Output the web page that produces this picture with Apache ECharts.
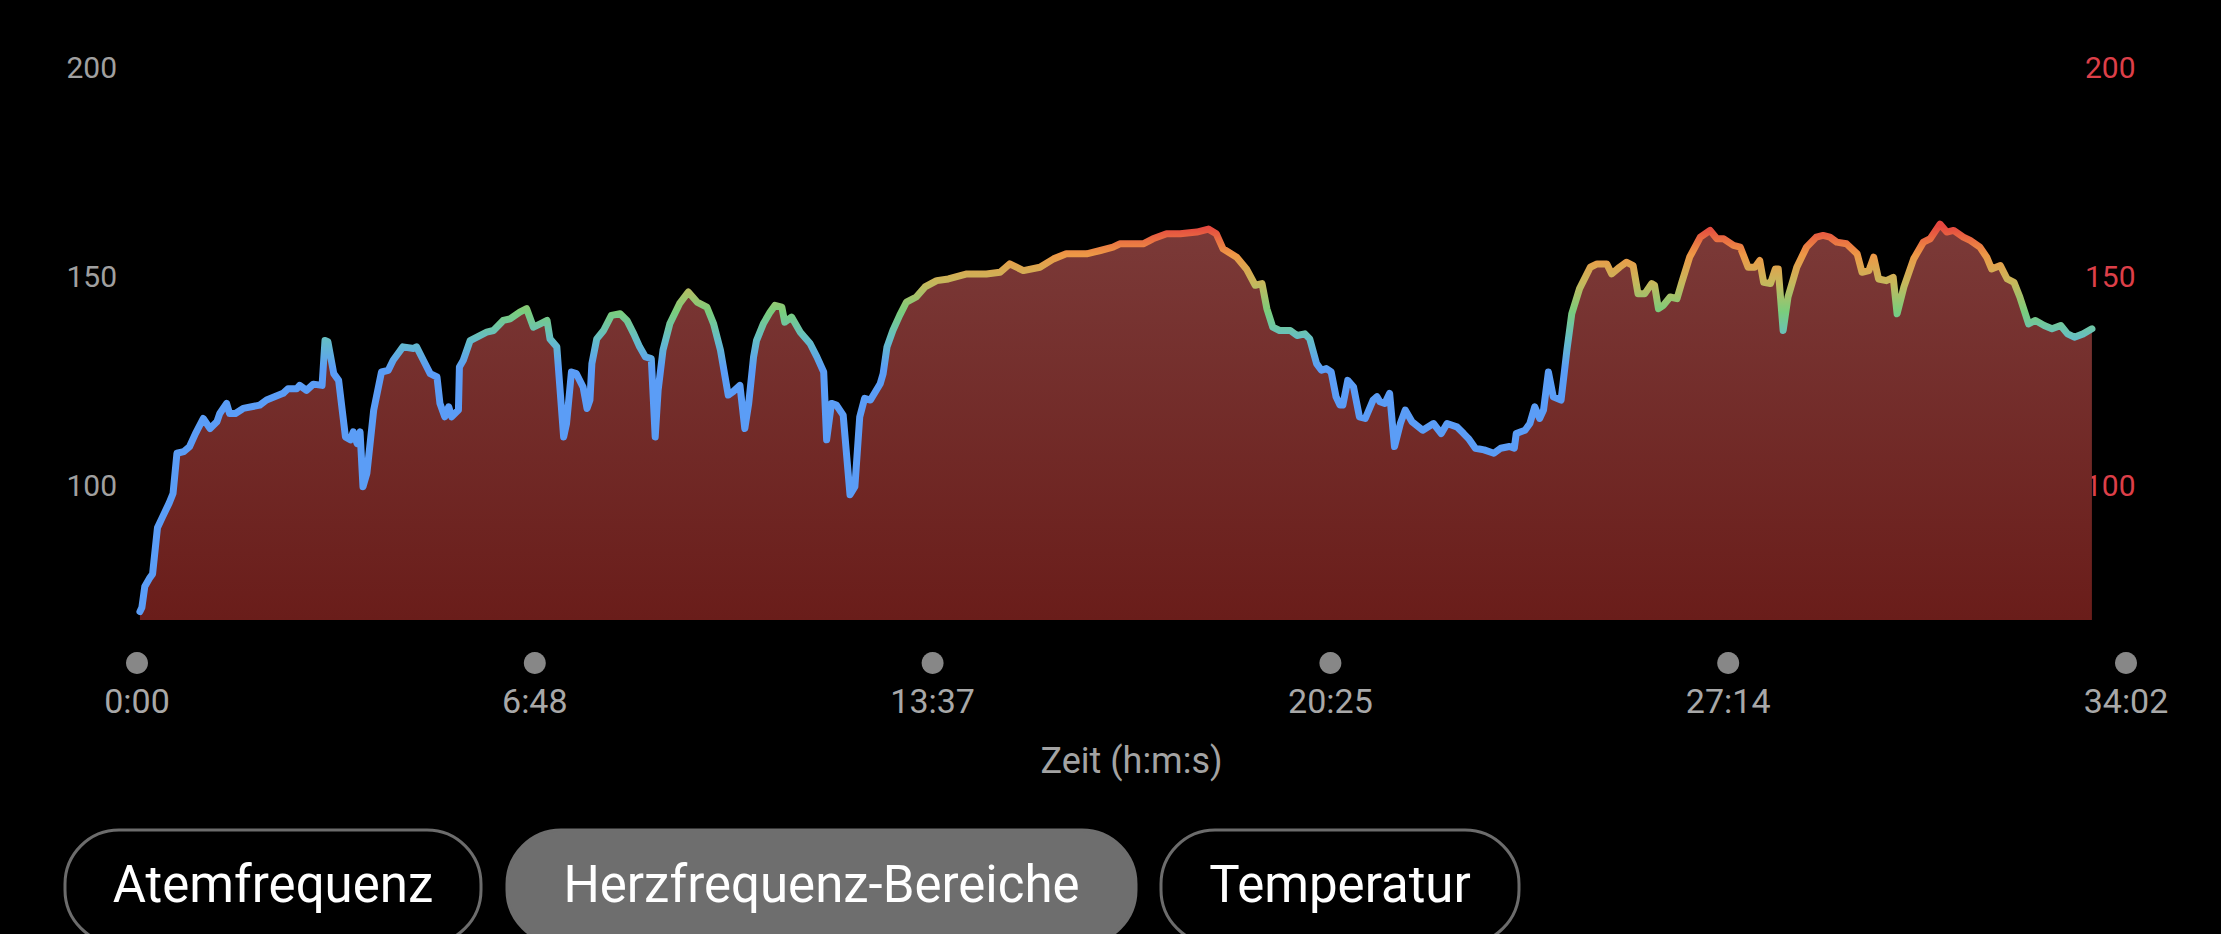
<!DOCTYPE html>
<html>
<head>
<meta charset="utf-8">
<script src="https://cdn.jsdelivr.net/npm/echarts@6/dist/echarts.min.js"></script>
<style>
  html, body { margin: 0; padding: 0; background: #000; overflow: hidden; }
  #chart { width: 2221px; height: 934px; }
</style>
</head>
<body>
<div id="chart"></div>
<script>
// elapsed time in seconds
const times = [3,5,8,13,16,21,26,33,37,41,48,54,60,68,75,82,85,92,95,101,109,126,133,150,155,164,167,174,181,190,193,196,202,207,214,219,222,226,229,232,236,243,251,258,263,273,284,287,294,301,308,311,316,320,323,330,331,335,342,352,359,366,376,383,393,400,407,414,421,424,431,438,441,446,451,458,462,465,467,472,479,487,496,503,510,516,522,528,532,535,540,547,557,566,575,585,592,599,607,612,619,624,628,633,636,643,650,655,662,665,672,681,691,698,705,708,713,718,725,732,737,742,747,753,763,766,770,776,783,790,800,809,821,833,852,872,886,896,910,927,941,954,975,989,1002,1009,1033,1043,1057,1071,1088,1100,1108,1115,1129,1139,1148,1155,1160,1166,1173,1184,1191,1199,1204,1211,1216,1221,1226,1231,1235,1238,1243,1249,1255,1261,1269,1273,1276,1281,1286,1291,1297,1302,1309,1320,1331,1339,1345,1355,1362,1367,1374,1383,1393,1400,1409,1414,1416,1425,1430,1435,1440,1444,1449,1454,1462,1468,1473,1481,1492,1499,1509,1514,1522,1529,1536,1541,1548,1555,1558,1562,1567,1574,1581,1586,1594,1605,1615,1622,1629,1639,1646,1654,1661,1666,1670,1677,1682,1685,1690,1695,1704,1714,1724,1731,1738,1745,1755,1766,1771,1778,1783,1788,1796,1803,1807,1814,1824,1834,1841,1851,1858,1865,1875,1882,1892,1899,1904,1913,1920,1927,1933,1942,1949,1958,1966,1975,1982,1989,1998,2007];
// heart rate (bpm)
const heartRate = [70,71,76,78,79,90,92.5,95.9,98.2,107.8,108.2,109.4,112.5,116.1,113.7,115.3,117.3,119.7,117.3,117.3,118.5,119.3,120.5,122.1,123.2,123.2,124,122.8,124.3,124,134.7,134.4,126.8,125.2,111.7,111,112.9,110.1,112.9,99.8,103,118.1,127.2,127.6,130,133.2,132.8,133.2,130,126.8,126,119.7,116.5,118.9,116.5,118.1,128.4,130,134.7,135.9,136.7,137.1,139.5,139.9,141.5,142.3,137.9,138.7,139.5,135.1,133.2,111.7,114.9,127.2,126.8,123.6,118.5,120.5,129.2,135.1,137.1,140.7,141.1,139.5,136.3,133.2,130.8,130.4,111.7,122.8,132.4,138.7,143.5,146.3,143.9,142.7,138.7,132.4,121.7,122.5,124,113.7,119.7,130.8,134.7,138.7,141.5,143.1,142.7,139.1,140.3,136.7,134,130.8,127.2,111,119.7,119.3,116.9,97.9,99.8,116.5,120.9,120.5,124.4,126.8,133.2,137.1,140.7,143.9,145.1,147.5,149,149.4,150.6,150.6,151,153,151.4,152.2,154.2,155.4,155.4,156.2,157,157.8,157.8,159,160.2,160.2,160.6,161.3,160.2,156.6,154.6,151.8,147.9,148.3,142.3,137.9,137.1,137.1,135.9,136.3,135.1,129.2,127.6,128,127.2,121.3,119.3,119.3,125.2,123.6,116.5,116.1,120.5,121.3,120.1,119.7,122.1,109.4,114.9,118.1,115.3,113.3,114.9,112.5,114.9,114.1,112.5,111.3,109,108.6,107.8,109,109.4,109,112.5,113.3,114.9,118.9,116.1,118.1,127.2,121.3,120.5,132.4,141.1,147.1,152.2,153,153,150.6,152.2,153.4,152.6,145.9,145.9,148.3,147.9,142.3,143.1,145.1,144.7,148.6,154.6,159.4,161,159,159,157.4,157,152.2,152.2,153.8,148.6,148.3,151.8,151.8,137.1,145.1,152.2,157,159.4,159.8,159.4,158.2,157.8,155.4,151,151.4,154.6,149.4,149,149.8,141.1,147.5,154.2,158.2,159,162.5,160.6,161,159.4,158.6,157,154.6,151.8,152.6,149.4,148.6,145.1,138.7,139.5,138.3,137.5,138.3,136.3,135.5,136.3,137.5];
// x tick positions (seconds) and y tick labels
const xTicks = [0, 408.4, 816.8, 1225.2, 1633.6, 2042];
const yTicks = [100, 150, 200];
const buttons = ['Atemfrequenz', 'Herzfrequenz-Bereiche', 'Temperatur'];

const FONT = 'Roboto, "Noto Sans", sans-serif';
function fmtTime(v) {
  const s = Math.round(v);
  const m = Math.floor(s / 60);
  const ss = s % 60;
  return m + ':' + (ss < 10 ? '0' : '') + ss;
}

const chart = echarts.init(document.getElementById('chart'), null, { renderer: 'svg' });

const btnBoxes = [
  { x: 65, w: 416, active: false },
  { x: 507, w: 629, active: true },
  { x: 1161, w: 358, active: false }
];
const graphic = [];
buttons.forEach((label, i) => {
  const b = btnBoxes[i];
  graphic.push({
    type: 'rect', silent: true,
    shape: { x: b.x, y: 830, width: b.w, height: 114, r: 54 },
    style: b.active ? { fill: '#6e6e6e', stroke: '#6e6e6e', lineWidth: 3 } : { fill: '#000', stroke: '#6c6c6c', lineWidth: 3 }
  });
  graphic.push({
    type: 'text', silent: true,
    style: {
      text: label, x: b.x + b.w / 2, y: 884, align: 'center', verticalAlign: 'middle',
      fill: '#ffffff', fontSize: 51, fontFamily: FONT
    }
  });
});

chart.setOption({
  backgroundColor: '#000',
  animation: false,
  grid: [
    { left: 137, right: 95, top: 67, bottom: 314, outerBoundsMode: 'none', containLabel: false },
    { left: 137, right: 95, top: 650, height: 26, outerBoundsMode: 'none', containLabel: false }
  ],
  xAxis: [
    { type: 'value', gridIndex: 0, min: 0, max: 2042, show: false },
    {
      type: 'value', gridIndex: 1, min: 0, max: 2042,
      axisLine: { show: false }, axisTick: { show: false }, splitLine: { show: false },
      axisLabel: {
        customValues: xTicks, formatter: fmtTime, margin: 8,
        color: '#a8a8a8', fontSize: 34, fontFamily: FONT
      },
      name: 'Zeit (h:m:s)', nameLocation: 'middle', nameGap: 67,
      nameTextStyle: { color: '#a3a3a3', fontSize: 36, fontFamily: FONT }
    }
  ],
  yAxis: [
    {
      type: 'value', gridIndex: 0, min: 68, max: 200, position: 'left',
      axisLine: { show: false }, axisTick: { show: false }, splitLine: { show: false },
      axisLabel: { customValues: yTicks, margin: 20, color: '#a0a0a0', fontSize: 30, fontFamily: FONT }
    },
    {
      type: 'value', gridIndex: 0, min: 68, max: 200, position: 'right', offset: -41,
      axisLine: { show: false }, axisTick: { show: false }, splitLine: { show: false },
      axisLabel: { customValues: yTicks, margin: 0, align: 'left', color: '#dd3f48', fontSize: 30, fontFamily: FONT }
    },
    { type: 'value', gridIndex: 1, min: -1, max: 1, show: false }
  ],
  visualMap: {
    type: 'continuous', show: false, seriesIndex: 0, dimension: 1,
    min: 128, max: 162,
    inRange: { color: ['#5b9df6', '#64bdc9', '#7acd7c', '#c6b85c', '#ee9846', '#e5473f'] }
  },
  graphic: graphic,
  series: [
    {
      type: 'line', xAxisIndex: 0, yAxisIndex: 0,
      data: times.map((t, i) => [t, heartRate[i]]),
      showSymbol: false, symbol: 'none', smooth: false, clip: false,
      lineStyle: { width: 7, join: 'round', cap: 'round' },
      areaStyle: {
        opacity: 1,
        color: {
          type: 'linear', x: 0, y: 0, x2: 0, y2: 1,
          colorStops: [
            { offset: 0, color: '#7b3a38' },
            { offset: 1, color: '#6a1d1a' }
          ]
        }
      },
      silent: true
    },
    {
      type: 'scatter', xAxisIndex: 1, yAxisIndex: 2,
      data: xTicks.map(t => [t, 0]),
      symbol: 'circle', symbolSize: 22, clip: false, silent: true,
      itemStyle: { color: '#a9a9a9' }
    }
  ]
});
</script>
</body>
</html>
